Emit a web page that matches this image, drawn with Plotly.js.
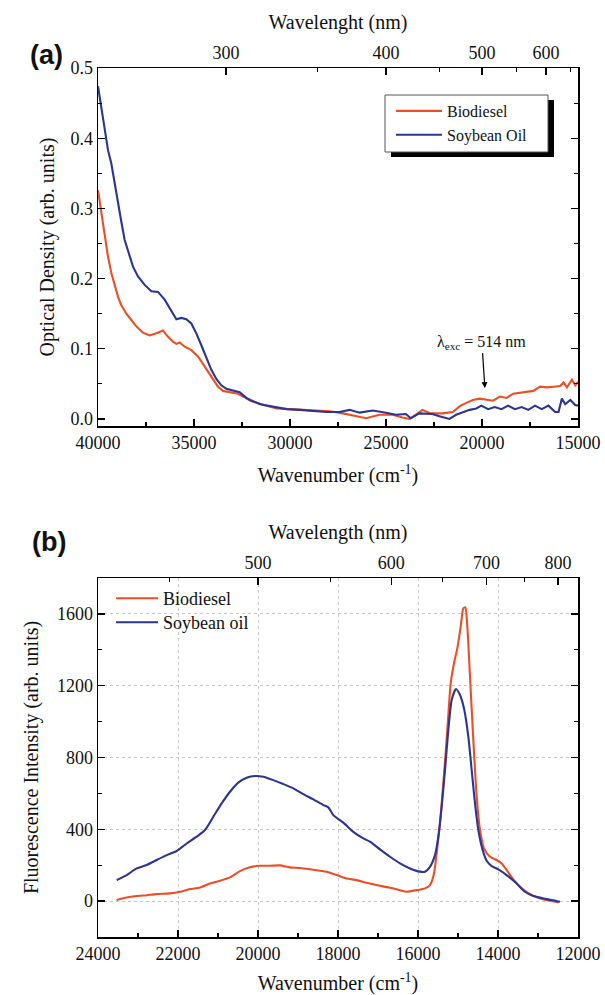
<!DOCTYPE html>
<html>
<head>
<meta charset="utf-8">
<script src="https://cdn.plot.ly/plotly-3.0.1.min.js"></script>
<style>
  html, body { margin: 0; padding: 0; background: #fff; }
  #chart { width: 605px; height: 995px; }
</style>
</head>
<body>
<div id="chart"></div>
<script>
// ---------- Panel (a): optical density ----------
const absWnBio = [40000,39826,39653,39479,39306,39132,38958,38785,38524,38264,38003,37656,37309,36962,36614,36354,36094,35920,35747,35486,35139,34792,34444,34097,33750,33490,33142,32708,32361,32069,31379,30690,30000,29310,28620,27931,27241,26552,26034,25345,24655,24138,23793,23448,23103,22672,22045,21521,21171,20822,20472,20122,19773,19423,19074,18724,18374,18025,17675,17325,16976,16626,16277,15927,15752,15577,15315,15140,15000];
const absBio   = [0.326,0.293,0.260,0.231,0.208,0.189,0.174,0.162,0.150,0.141,0.132,0.123,0.119,0.122,0.126,0.117,0.110,0.107,0.109,0.103,0.098,0.089,0.075,0.060,0.046,0.040,0.038,0.036,0.031,0.026,0.020,0.015,0.014,0.013,0.013,0.011,0.008,0.004,0.001,0.006,0.006,0.002,0.000,0.006,0.013,0.008,0.008,0.010,0.018,0.023,0.027,0.029,0.028,0.026,0.032,0.030,0.036,0.037,0.039,0.040,0.046,0.045,0.046,0.047,0.052,0.045,0.056,0.048,0.053];

const absWnSoy = [40000,39826,39653,39479,39306,39132,38958,38785,38611,38437,38177,37917,37569,37222,36875,36528,36180,35920,35660,35400,35139,34878,34618,34358,34097,33837,33576,33316,32969,32622,32274,32069,31552,30862,30172,29483,28793,28103,27414,26897,26379,25690,25000,24483,23966,23707,23276,22586,22220,21696,21346,20996,20647,20297,20035,19685,19336,18986,18636,18287,17937,17588,17238,16889,16539,16189,16015,15840,15665,15403,15140,15000];
const absSoy   = [0.474,0.445,0.417,0.383,0.364,0.336,0.303,0.281,0.255,0.241,0.217,0.203,0.191,0.182,0.181,0.170,0.153,0.142,0.144,0.142,0.136,0.122,0.105,0.086,0.070,0.057,0.048,0.043,0.041,0.038,0.030,0.027,0.021,0.017,0.014,0.013,0.011,0.010,0.010,0.013,0.009,0.012,0.009,0.006,0.007,0.001,0.008,0.007,0.004,0.000,0.006,0.010,0.013,0.015,0.019,0.014,0.017,0.014,0.019,0.014,0.017,0.013,0.019,0.014,0.019,0.010,0.010,0.029,0.021,0.027,0.020,0.019];

// ---------- Panel (b): fluorescence ----------
const flWnBio = [23533,23283,23033,22783,22533,22200,21950,21700,21450,21200,20950,20700,20450,20200,19950,19700,19450,19200,18950,18700,18450,18283,18033,17783,17533,17283,16950,16700,16450,16283,16033,15825,15700,15600,15533,15450,15367,15267,15183,15100,15017,14933,14867,14817,14767,14700,14617,14533,14450,14350,14200,14033,13908,13783,13617,13408,13200,12950,12700,12492];
const flBio   = [6,20,28,33,39,43,52,67,76,98,113,132,167,188,197,197,199,188,184,177,169,164,145,126,117,102,85,74,61,52,61,71,89,154,266,433,656,953,1213,1325,1408,1529,1631,1637,1529,1250,897,582,396,294,247,229,210,173,121,71,39,15,2,-7];

const flWnSoy = [23533,23283,23033,22783,22533,22283,22033,21783,21533,21325,21117,20908,20700,20492,20283,20075,19867,19617,19367,19117,18867,18617,18367,18242,18117,17867,17617,17367,17200,16950,16700,16450,16200,15950,15825,15700,15575,15492,15408,15325,15242,15158,15050,14950,14842,14742,14658,14575,14492,14383,14283,14158,13992,13783,13533,13325,13117,12867,12658,12450];
const flSoy   = [117,145,182,201,229,256,279,321,359,396,470,544,609,660,687,697,693,674,652,628,596,567,535,522,479,437,386,349,331,288,247,210,182,164,164,191,256,359,526,730,953,1120,1182,1148,1065,916,730,544,396,284,225,195,177,145,98,52,28,15,6,-4];

// ---------- Tick labels ----------
const topWavelengthsA = [300, 400, 500, 600];
const topMinorWavelengthsA = [350, 450, 550, 650];
const topWavelengthsB = [500, 600, 700, 800];
const topMinorWavelengthsB = [450, 550, 650, 750];
const seriesNames = ['Biodiesel', 'Soybean Oil'];
const seriesNamesB = ['Biodiesel', 'Soybean oil'];
const excitation = {wn: 19850, od: 0.044, label: 'λ<sub>exc</sub> = 514 nm'};

// ---------- styling ----------
const RED = '#EE4E24';
const BLUE = '#2B3592';
const SERIF = '"Liberation Serif", "Times New Roman", serif';
const SANS = '"Liberation Sans", Arial, sans-serif';
const toWn = nm => 1e7 / nm;

// pixel helpers for paper coordinates
const L = 98, R = 27, T = 68, B = 58, FW = 605, FH = 995;
const PW = FW - L - R, PH = FH - T - B;
const px = x => (x - L) / PW;
const py = y => (FH - B - y) / PH;

const tickFont = () => ({family: SERIF, size: 18, color: '#111'});
const titleFont = () => ({family: SERIF, size: 20, color: '#111'});
const axisCommon = () => ({
  showline: true, linecolor: '#000', linewidth: 1.5,
  ticks: 'inside', ticklen: 7, tickwidth: 1.2, tickcolor: '#000',
  tickfont: tickFont(),
  zeroline: false, showgrid: false, automargin: false
});
const minorCommon = () => ({ticks: 'inside', ticklen: 4, tickwidth: 1.1, tickcolor: '#000', showgrid: false});

const traces = [
  {x: absWnBio, y: absBio, name: seriesNames[0], type: 'scatter', mode: 'lines',
   line: {color: RED, width: 2.1}, xaxis: 'x', yaxis: 'y', legend: 'legend', legendgroup: 'a1'},
  {x: absWnSoy, y: absSoy, name: seriesNames[1], type: 'scatter', mode: 'lines',
   line: {color: BLUE, width: 2.1}, xaxis: 'x', yaxis: 'y', legend: 'legend', legendgroup: 'a2'},
  // helper (invisible) traces so the top wavelength axes are built
  {x: absWnBio, y: absBio, type: 'scatter', mode: 'lines', line: {width: 0}, opacity: 0,
   showlegend: false, hoverinfo: 'skip', xaxis: 'x2', yaxis: 'y'},
  {x: flWnBio, y: flBio, name: seriesNamesB[0], type: 'scatter', mode: 'lines',
   line: {color: RED, width: 2.1, shape: 'spline', smoothing: 0.6}, xaxis: 'x3', yaxis: 'y3', legend: 'legend2'},
  {x: flWnSoy, y: flSoy, name: seriesNamesB[1], type: 'scatter', mode: 'lines',
   line: {color: BLUE, width: 2.1, shape: 'spline', smoothing: 0.6}, xaxis: 'x3', yaxis: 'y3', legend: 'legend3'},
  {x: flWnBio, y: flBio, type: 'scatter', mode: 'lines', line: {width: 0}, opacity: 0,
   showlegend: false, hoverinfo: 'skip', xaxis: 'x4', yaxis: 'y3'}
];

const domA = [py(426), 1];
const domB = [0, py(578)];

const legendB = (yTop) => ({
  x: px(111), y: py(yTop), xanchor: 'left', yanchor: 'top',
  bgcolor: 'rgba(0,0,0,0)', borderwidth: 0,
  font: {family: SERIF, size: 18, color: '#111'}, itemwidth: 42
});

const layout = {
  width: FW, height: FH,
  margin: {l: L, r: R, t: T, b: B, pad: 0},
  paper_bgcolor: '#fff', plot_bgcolor: 'rgba(0,0,0,0)',
  font: {family: SERIF, color: '#111'},
  showlegend: true,
  xaxis: Object.assign(axisCommon(), {
    domain: [0, 1], anchor: 'y', range: [40000, 15000],
    tick0: 0, dtick: 5000, tickformat: 'd',
    minor: Object.assign(minorCommon(), {dtick: 2500}),
    title: {text: 'Wavenumber (cm<sup>-1</sup>)', font: titleFont(), standoff: 16}
  }),
  xaxis2: Object.assign(axisCommon(), {
    overlaying: 'x', side: 'top', anchor: 'y', range: [40000, 15000],
    tickmode: 'array', tickvals: topWavelengthsA.map(toWn), ticktext: topWavelengthsA.map(String),
    minor: Object.assign(minorCommon(), {tickmode: 'array', tickvals: topMinorWavelengthsA.map(toWn)}),
    title: {text: 'Wavelenght (nm)', font: titleFont(), standoff: 8}
  }),
  yaxis: Object.assign(axisCommon(), {
    domain: domA, anchor: 'x', range: [-0.01, 0.5],
    tick0: 0, dtick: 0.1, tickformat: '.1f', mirror: 'ticks',
    minor: Object.assign(minorCommon(), {dtick: 0.05}),
    title: {text: 'Optical Density (arb. units)', font: titleFont(), standoff: 10}
  }),
  xaxis3: Object.assign(axisCommon(), {
    domain: [0, 1], anchor: 'y3', range: [24000, 12000],
    tick0: 0, dtick: 2000, tickformat: 'd',
    showgrid: true, gridcolor: '#c8c8c8', gridwidth: 1, griddash: '3px,3px',
    minor: Object.assign(minorCommon(), {dtick: 1000}),
    title: {text: 'Wavenumber (cm<sup>-1</sup>)', font: titleFont(), standoff: 18}
  }),
  xaxis4: Object.assign(axisCommon(), {
    overlaying: 'x3', side: 'top', anchor: 'y3', range: [24000, 12000],
    tickmode: 'array', tickvals: topWavelengthsB.map(toWn), ticktext: topWavelengthsB.map(String),
    minor: Object.assign(minorCommon(), {tickmode: 'array', tickvals: topMinorWavelengthsB.map(toWn)}),
    title: {text: 'Wavelength (nm)', font: titleFont(), standoff: 8}
  }),
  yaxis3: Object.assign(axisCommon(), {
    domain: domB, anchor: 'x3', range: [-200, 1800],
    tick0: 0, dtick: 400, mirror: 'ticks',
    showgrid: true, gridcolor: '#c8c8c8', gridwidth: 1, griddash: '3px,3px',
    minor: Object.assign(minorCommon(), {dtick: 200}),
    title: {text: 'Fluorescence Intensity (arb. units)', font: titleFont(), standoff: 13}
  }),
  legend: {
    x: px(391), y: py(94), xanchor: 'left', yanchor: 'top',
    bgcolor: 'rgba(0,0,0,0)', borderwidth: 0,
    font: {family: SERIF, size: 16, color: '#111'},
    tracegroupgap: 0, itemwidth: 46
  },
  legend2: legendB(580),
  legend3: legendB(604),
  shapes: [
    // legend shadow and box for panel (a)
    {type: 'rect', xref: 'paper', yref: 'paper', x0: px(391), x1: px(554), y0: py(157), y1: py(100),
     fillcolor: '#000', line: {width: 0}, layer: 'above'},
    {type: 'rect', xref: 'paper', yref: 'paper', x0: px(385), x1: px(548), y0: py(152), y1: py(95),
     fillcolor: '#fff', line: {color: '#555', width: 1}, layer: 'above'}
  ],
  annotations: [
    {x: excitation.wn, y: excitation.od, xref: 'x', yref: 'y', text: excitation.label,
     showarrow: true, arrowhead: 2, arrowsize: 1, arrowwidth: 1.2, arrowcolor: '#000',
     ax: -3, ay: -46, font: {family: SERIF, size: 16, color: '#111'}},
    {x: px(28), y: py(38), xref: 'paper', yref: 'paper', text: '<b>(a)</b>', showarrow: false,
     font: {family: SANS, size: 27, color: '#111'}},
    {x: px(30), y: py(542), xref: 'paper', yref: 'paper', text: '<b>(b)</b>', showarrow: false,
     font: {family: SANS, size: 27, color: '#111'}}
  ]
};

Plotly.newPlot('chart', traces, layout, {displayModeBar: false, staticPlot: true});
</script>
</body>
</html>
